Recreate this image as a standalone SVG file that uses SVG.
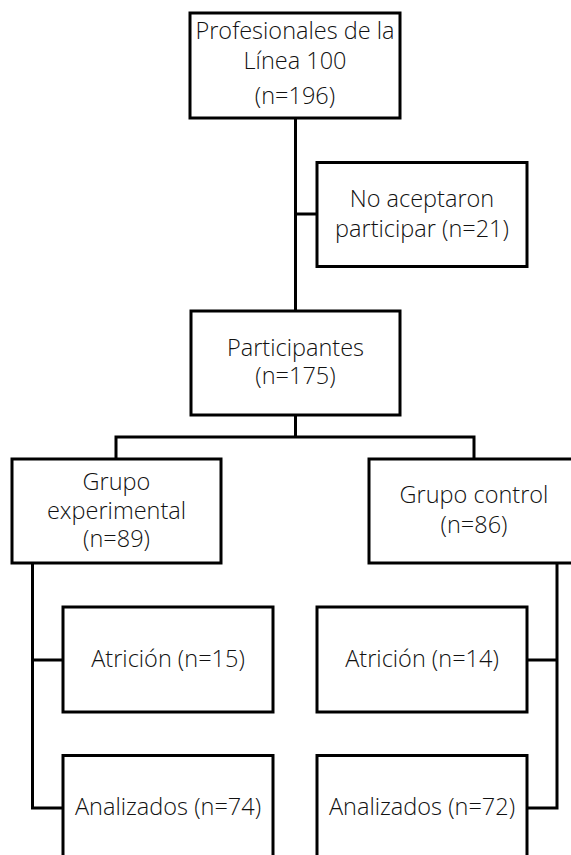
<svg xmlns="http://www.w3.org/2000/svg" width="571" height="855" viewBox="0 0 571 855">
<style>
.box{fill:#fff;stroke:#000;stroke-width:3}
.ln{fill:none;stroke:#000;stroke-width:3}
text{font-family:"Open Sans","Noto Sans","Liberation Sans",sans-serif;font-weight:300;font-size:23.5px;fill:#111;text-anchor:middle}
</style>
<rect width="571" height="855" fill="#fff"/>
<g id="connectors">
<path class="ln" d="M295.5 118V311"/>
<path class="ln" d="M295.5 214H317"/>
<path class="ln" d="M295.5 415V437M116 459V437H474V459"/>
<path class="ln" d="M32.5 563V808H63M32.5 660H63"/>
<path class="ln" d="M557 563V808H527M557 660H527"/>
</g>
<g id="n1"><rect class="box" x="190" y="13" width="210" height="105"/>
<text x="295" y="38.5">Profesionales de la</text><text x="295" y="68.5">Línea 100</text><text x="295" y="103.5">(n=196)</text></g>
<g id="n2"><rect class="box" x="317" y="162.5" width="210" height="104"/>
<text x="422" y="207">No aceptaron</text><text x="422" y="237">participar (n=21)</text></g>
<g id="n3"><rect class="box" x="191" y="311" width="209" height="104"/>
<text x="295.5" y="355.5">Participantes</text><text x="295.5" y="384">(n=175)</text></g>
<g id="n4"><rect class="box" x="12" y="459" width="209" height="104"/>
<text x="116.5" y="490">Grupo</text><text x="116.5" y="518.5">experimental</text><text x="116.5" y="547">(n=89)</text></g>
<g id="n5"><rect class="box" x="369" y="459" width="210" height="104"/>
<text x="474" y="503">Grupo control</text><text x="474" y="532.5">(n=86)</text></g>
<g id="n6"><rect class="box" x="63" y="607" width="210" height="105"/>
<text x="168" y="667">Atrición (n=15)</text></g>
<g id="n7"><rect class="box" x="63" y="755.5" width="210" height="110"/>
<text x="168" y="815">Analizados (n=74)</text></g>
<g id="n8"><rect class="box" x="317" y="607" width="210" height="105"/>
<text x="422" y="667">Atrición (n=14)</text></g>
<g id="n9"><rect class="box" x="317" y="755.5" width="210" height="110"/>
<text x="422" y="815">Analizados (n=72)</text></g>
</svg>
